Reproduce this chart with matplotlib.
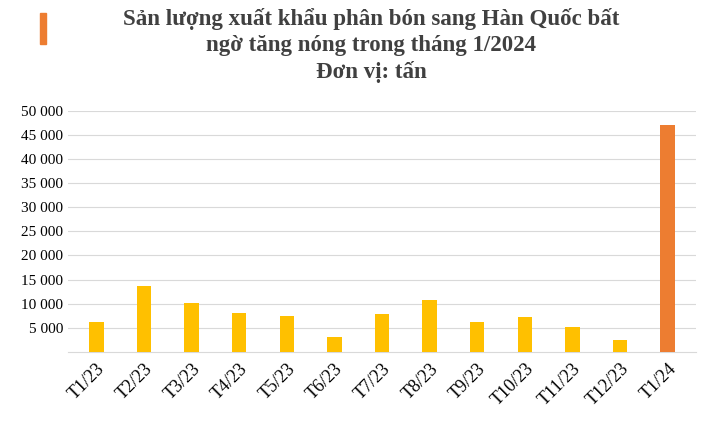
import matplotlib.pyplot as plt
from matplotlib.patches import Rectangle

categories = ["T1/23","T2/23","T3/23","T4/23","T5/23","T6/23","T7/23","T8/23","T9/23","T10/23","T11/23","T12/23","T1/24"]
values = [6200,13700,10200,8100,7500,3100,7900,10800,6200,7300,5200,2500,47100]
colors = ["#FFC000"]*12 + ["#ED7D31"]
yticks = [5000,10000,15000,20000,25000,30000,35000,40000,45000,50000]
ytick_labels = ["5 000","10 000","15 000","20 000","25 000","30 000","35 000","40 000","45 000","50 000"]

plt.rcParams['font.family'] = ['Liberation Serif', 'DejaVu Serif']
fig = plt.figure(figsize=(7.14,4.23), dpi=100)
ax = fig.add_axes([0.095,0.168,0.88,0.57])
x = range(len(categories))
ax.bar(x, values, width=0.3, color=colors, zorder=3)
ax.set_ylim(0,50000)
ax.set_xlim(-0.6,12.6)
ax.set_yticks(yticks)
ax.set_yticklabels(ytick_labels, fontsize=11)
ax.set_xticks(list(x))
ax.set_xticklabels(categories, rotation=45, fontsize=13, ha='right', rotation_mode='anchor')
ax.grid(axis='y', color='#D9D9D9', linewidth=0.8, zorder=0)
for s in ['top','right','left']:
    ax.spines[s].set_visible(False)
ax.spines['bottom'].set_color('#D9D9D9')
ax.tick_params(length=0)
ax.tick_params(axis='x', pad=6)
fig.text(0.52,0.98,"Sản lượng xuất khẩu phân bón sang Hàn Quốc bất\nngờ tăng nóng trong tháng 1/2024\nĐơn vị: tấn",
         ha='center', va='top', fontsize=16.5, fontweight='bold', color='#404040', linespacing=1.3)
fig.patches.append(Rectangle((0.056,0.895),0.008,0.075, transform=fig.transFigure, color='#ED7D31'))
fig.savefig("out.png", dpi=100)
